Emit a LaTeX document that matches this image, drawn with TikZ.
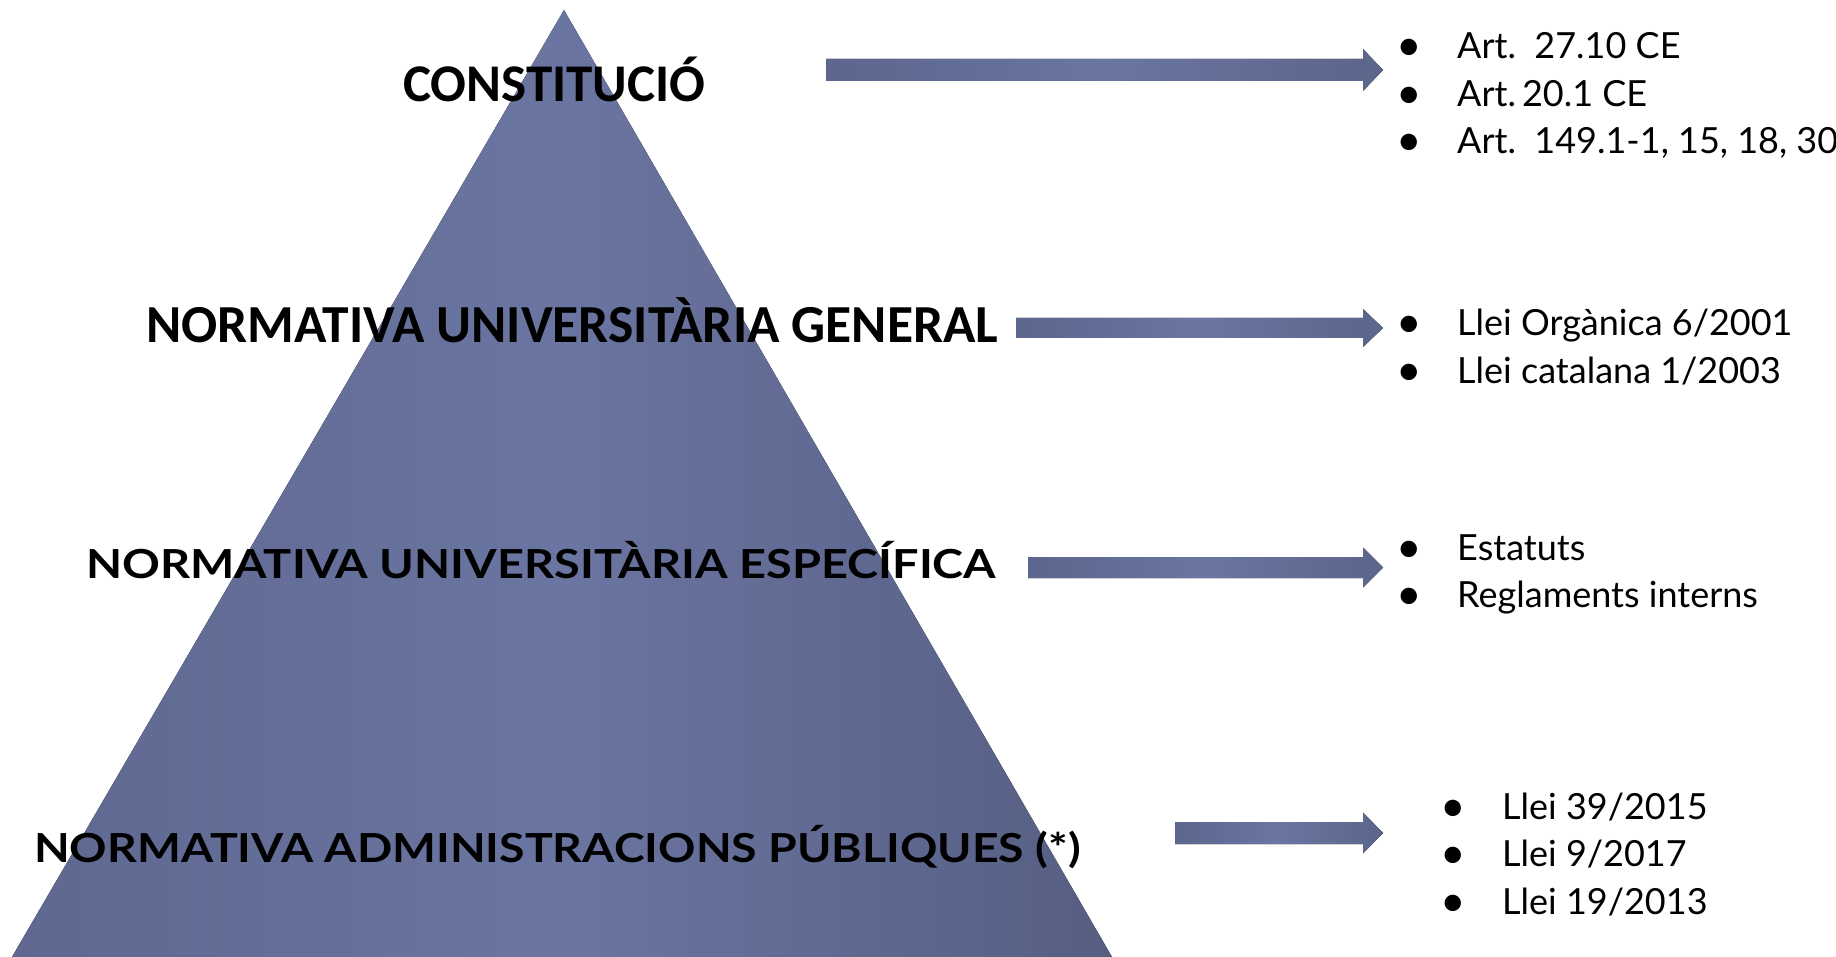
\documentclass[tikz,border=0pt]{standalone}
\usepackage{fontspec}
\setmainfont{Lato}
\newfontfamily\calibfont{Carlito}
\newfontfamily\gillfont{Lato}
\usetikzlibrary{calc}
\definecolor{pyrL}{RGB}{94,104,144}
\definecolor{pyrM}{RGB}{106,117,161}
\definecolor{pyrR}{RGB}{86,94,130}
\definecolor{arrL}{RGB}{92,102,142}
\definecolor{arrM}{RGB}{106,117,161}
\definecolor{arrR}{RGB}{92,101,138}
\newcommand\myblockarrow[4]{%
  \fill[arrowfill] ($(#1)+(0,-#3)$) -- ($(#2)+(-20,-#3)$) -- ($(#2)+(-20,-#4)$) -- (#2)
    -- ($(#2)+(-20,#4)$) -- ($(#2)+(-20,#3)$) -- ($(#1)+(0,#3)$) -- cycle;}
\begin{document}
\begin{tikzpicture}[x=1pt,y=-1pt,
  pyrfill/.style={left color=pyrL,right color=pyrR,middle color=pyrM},
  arrowfill/.style={left color=arrL,right color=arrR,middle color=arrM},
  calibhead/.style={inner sep=0pt,anchor=base west,font=\calibfont\bfseries\fontsize{53}{60}\selectfont},
  calibhead2/.style={inner sep=0pt,anchor=base west,font=\calibfont\bfseries\fontsize{53.5}{60}\selectfont},
  gillhead/.style={inner sep=0pt,anchor=base west,font=\gillfont\bfseries\fontsize{40}{48}\selectfont},
  item/.style={inner sep=0pt,anchor=base west,font=\gillfont\fontsize{36}{44}\selectfont},
  bul/.style={inner sep=0pt,anchor=base,font=\gillfont\fontsize{44}{44}\selectfont}]
\useasboundingbox (0,0) rectangle (1836,957);
\fill[white] (0,0) rectangle (1836,957);
% pyramid
\coordinate (apex) at (564,10);
\coordinate (bl) at (12,957);
\coordinate (br) at (1112,957);
\fill[pyrfill] (apex) -- (br) -- (bl) -- cycle;
% level labels
\node[calibhead] (l1) at (403,102) {CONSTITUCIÓ};
\node[calibhead2] (l2) at (146,343) {NORMATIVA UNIVERSITÀRIA GENERAL};
\node[gillhead] (l3) at (86,578) {\scalebox{1.172}[1]{NORMATIVA UNIVERSITÀRIA ESPECÍFICA}};
\node[gillhead] (l4) at (34,862) {\scalebox{1.16}[1]{NORMATIVA ADMINISTRACIONS PÚBLIQUES (*)}};
% arrows
\coordinate (a1s) at (826,70);   \coordinate (a1t) at (1383,70);
\coordinate (a2s) at (1016,328); \coordinate (a2t) at (1383,328);
\coordinate (a3s) at (1028,567.5); \coordinate (a3t) at (1383,567.5);
\coordinate (a4s) at (1175,833); \coordinate (a4t) at (1383,833);
\myblockarrow{a1s}{a1t}{11}{21}
\myblockarrow{a2s}{a2t}{10}{19}
\myblockarrow{a3s}{a3t}{10.5}{20}
\myblockarrow{a4s}{a4t}{11}{20.5}
% lists
\node[bul] (b11) at (1409,61) {•};
\node[item] (t11) at (1457,59) {Art.\ \ 27.10 CE};
\node[bul] (b12) at (1409,108.5) {•};
\node[item] (t12) at (1457,106.5) {Art.\,20.1 CE};
\node[bul] (b13) at (1409,156) {•};
\node[item] (t13) at (1457,154) {Art.\ \ 149.1-1, 15, 18, 30};
\node[bul] (b21) at (1409,338) {•};
\node[item] (t21) at (1457,336) {Llei Orgànica 6/2001};
\node[bul] (b22) at (1409,385.5) {•};
\node[item] (t22) at (1457,383.5) {Llei catalana 1/2003};
\node[bul] (b31) at (1409,562) {•};
\node[item] (t31) at (1457,560) {Estatuts};
\node[bul] (b32) at (1409,609.5) {•};
\node[item] (t32) at (1457,607.5) {Reglaments interns};
\node[bul] (b41) at (1453,821) {•};
\node[item] (t41) at (1502,819) {Llei 39/2015};
\node[bul] (b42) at (1453,868.5) {•};
\node[item] (t42) at (1502,866.5) {Llei 9/2017};
\node[bul] (b43) at (1453,916) {•};
\node[item] (t43) at (1502,914) {Llei 19/2013};
\end{tikzpicture}
\end{document}
